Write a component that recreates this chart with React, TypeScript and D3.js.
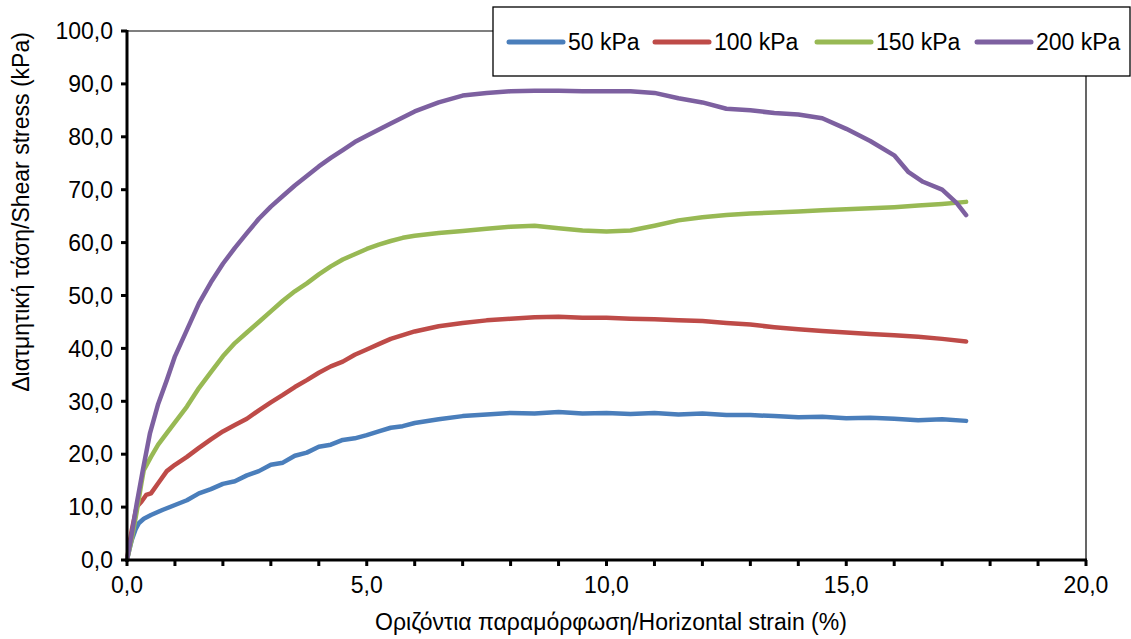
import React from "react";
import * as d3 from "d3";

// 50 kPa
const strain50 = [0, 0.05, 0.1, 0.18, 0.25, 0.35, 0.5, 0.75, 1, 1.25, 1.5, 1.75, 2, 2.25, 2.5, 2.75, 3, 3.25, 3.5, 3.75, 4, 4.25, 4.5, 4.75, 5, 5.25, 5.5, 5.75, 6, 6.5, 7, 7.5, 8, 8.5, 9, 9.5, 10, 10.5, 11, 11.5, 12, 12.5, 13, 13.5, 14, 14.5, 15, 15.5, 16, 16.5, 17, 17.5];
const stress50 = [0, 2, 3.8, 5.8, 7, 7.8, 8.5, 9.5, 10.4, 11.3, 12.6, 13.4, 14.4, 14.9, 16, 16.8, 18, 18.4, 19.7, 20.3, 21.4, 21.8, 22.7, 23, 23.6, 24.3, 25, 25.3, 25.9, 26.6, 27.2, 27.5, 27.8, 27.7, 28, 27.7, 27.8, 27.6, 27.8, 27.5, 27.7, 27.4, 27.4, 27.2, 27, 27.1, 26.8, 26.9, 26.7, 26.4, 26.6, 26.3];

// 100 kPa
const strain100 = [0, 0.05, 0.1, 0.2, 0.3, 0.4, 0.5, 0.65, 0.83, 1, 1.25, 1.5, 1.75, 2, 2.25, 2.5, 2.75, 3, 3.25, 3.5, 3.75, 4, 4.25, 4.5, 4.75, 5, 5.25, 5.5, 5.75, 6, 6.5, 7, 7.5, 8, 8.5, 9, 9.5, 10, 10.5, 11, 11.5, 12, 12.5, 13, 13.5, 14, 14.5, 15, 15.5, 16, 16.5, 17, 17.5];
const stress100 = [0, 3, 5.7, 10, 11, 12.3, 12.6, 14.5, 16.8, 18, 19.5, 21.2, 22.8, 24.3, 25.5, 26.7, 28.3, 29.8, 31.2, 32.7, 34, 35.4, 36.6, 37.5, 38.8, 39.8, 40.8, 41.8, 42.5, 43.2, 44.2, 44.8, 45.3, 45.6, 45.9, 46, 45.8, 45.8, 45.6, 45.5, 45.3, 45.2, 44.8, 44.5, 44, 43.6, 43.3, 43, 42.7, 42.5, 42.2, 41.8, 41.3];

// 150 kPa
const strain150 = [0, 0.1, 0.2, 0.3, 0.35, 0.5, 0.65, 0.83, 1, 1.25, 1.5, 1.75, 2, 2.25, 2.5, 2.75, 3, 3.25, 3.5, 3.75, 4, 4.25, 4.5, 4.75, 5, 5.25, 5.5, 5.75, 6, 6.5, 7, 7.5, 8, 8.5, 9, 9.5, 10, 10.5, 11, 11.5, 12, 12.5, 13, 13.5, 14, 14.5, 15, 15.5, 16, 16.5, 17, 17.5];
const stress150 = [0, 4, 9, 14.5, 17, 19.5, 21.8, 24, 26, 29, 32.5, 35.5, 38.5, 41, 43, 45, 47, 49, 50.8, 52.3, 54, 55.5, 56.8, 57.8, 58.8, 59.6, 60.3, 60.9, 61.3, 61.8, 62.2, 62.6, 63, 63.2, 62.7, 62.3, 62.1, 62.3, 63.2, 64.2, 64.8, 65.2, 65.5, 65.7, 65.9, 66.1, 66.3, 66.5, 66.7, 67, 67.3, 67.7];

// 200 kPa
const strain200 = [0, 0.1, 0.2, 0.33, 0.48, 0.65, 0.83, 1, 1.25, 1.5, 1.75, 2, 2.25, 2.5, 2.75, 3, 3.25, 3.5, 3.75, 4, 4.25, 4.5, 4.75, 5, 5.5, 6, 6.5, 7, 7.5, 8, 8.5, 9, 9.5, 10, 10.5, 11, 11.5, 12, 12.5, 13, 13.5, 14, 14.5, 15, 15.5, 16, 16.3, 16.6, 17, 17.3, 17.5];
const stress200 = [0, 5, 10.5, 17, 24, 29.5, 34, 38.5, 43.5, 48.5, 52.5, 56, 59, 61.8, 64.5, 66.8, 68.8, 70.8, 72.6, 74.4, 76, 77.5, 79, 80.2, 82.5, 84.8, 86.5, 87.8, 88.3, 88.6, 88.7, 88.7, 88.6, 88.6, 88.6, 88.3, 87.3, 86.5, 85.3, 85, 84.5, 84.2, 83.5, 81.5, 79.2, 76.5, 73.3, 71.5, 70, 67.5, 65.2];

const seriesNames = ["50 kPa", "100 kPa", "150 kPa", "200 kPa"];
const seriesColors = ["#4A7EBB", "#BE4B48", "#98B954", "#7D60A0"];
const xTickLabels = [0, 5, 10, 15, 20];
const yTickValues = [0, 10, 20, 30, 40, 50, 60, 70, 80, 90, 100];

const series = [
  { x: strain50, y: stress50 },
  { x: strain100, y: stress100 },
  { x: strain150, y: stress150 },
  { x: strain200, y: stress200 },
];

const fmt = (v: number) => v.toFixed(1).replace(".", ",");

export default function App() {
  const width = 1131;
  const height = 639;
  const left = 127, right = 1086, top = 31, bottom = 560;
  const font = "'Liberation Sans', Arial, sans-serif";
  const fs = 23;

  const x = d3.scaleLinear().domain([0, 20]).range([left, right]);
  const y = d3.scaleLinear().domain([0, 100]).range([bottom, top]);

  const line = d3.line<[number, number]>()
    .x(d => x(d[0]))
    .y(d => y(d[1]));

  const minorX = d3.range(0, 21, 1);
  // legend sample line start positions
  const legendX = [509, 655, 817, 977];

  return (
    <svg width={width} height={height} style={{ position: "absolute", left: 0, top: 0, background: "#fff" }}
      fontFamily={font}>
      {/* plot border top/right */}
      <line x1={left} x2={right} y1={top} y2={top} stroke="#000" strokeWidth={1.2} />
      <line x1={right} x2={right} y1={top} y2={bottom} stroke="#000" strokeWidth={1.2} />

      {series.map((s, i) => (
        <path key={i}
          d={line(s.x.map((v, j) => [v, s.y[j]] as [number, number])) || ""}
          fill="none" stroke={seriesColors[i]} strokeWidth={4.5}
          strokeLinejoin="round" strokeLinecap="round" />
      ))}

      {/* axes */}
      <line x1={left} x2={left} y1={top - 1} y2={bottom + 1.5} stroke="#000" strokeWidth={3} />
      <line x1={left - 1.5} x2={right + 1} y1={bottom} y2={bottom} stroke="#000" strokeWidth={3} />
      {yTickValues.map(v => (
        <g key={v}>
          <line x1={left - 6} x2={left} y1={y(v)} y2={y(v)} stroke="#000" strokeWidth={3} />
          <text x={left - 14} y={y(v)} dy="0.36em" textAnchor="end" fontSize={fs} fill="#000">{fmt(v)}</text>
        </g>
      ))}
      {minorX.map(v => (
        <line key={v} x1={x(v)} x2={x(v)} y1={bottom} y2={bottom + 6} stroke="#000" strokeWidth={3} />
      ))}
      {xTickLabels.map(v => (
        <text key={v} x={x(v)} y={593} textAnchor="middle" fontSize={fs} fill="#000">{fmt(v)}</text>
      ))}

      <text x={611} y={630} textAnchor="middle" fontSize={fs} fill="#000">
        Οριζόντια παραμόρφωση/Horizontal strain (%)
      </text>
      <text transform="translate(29,212) rotate(-90)" textAnchor="middle" fontSize={fs} fill="#000">
        Διατμητική τάση/Shear stress (kPa)
      </text>

      {/* legend */}
      <rect x={493} y={7} width={637} height={69} fill="#fff" stroke="#000" strokeWidth={1.3} />
      {seriesNames.map((n, i) => (
        <g key={n}>
          <line x1={legendX[i]} x2={legendX[i] + 54} y1={42} y2={42} stroke={seriesColors[i]}
            strokeWidth={5} strokeLinecap="round" />
          <text x={legendX[i] + 59} y={42} dy="0.36em" fontSize={fs} fill="#000">{n}</text>
        </g>
      ))}
    </svg>
  );
}
